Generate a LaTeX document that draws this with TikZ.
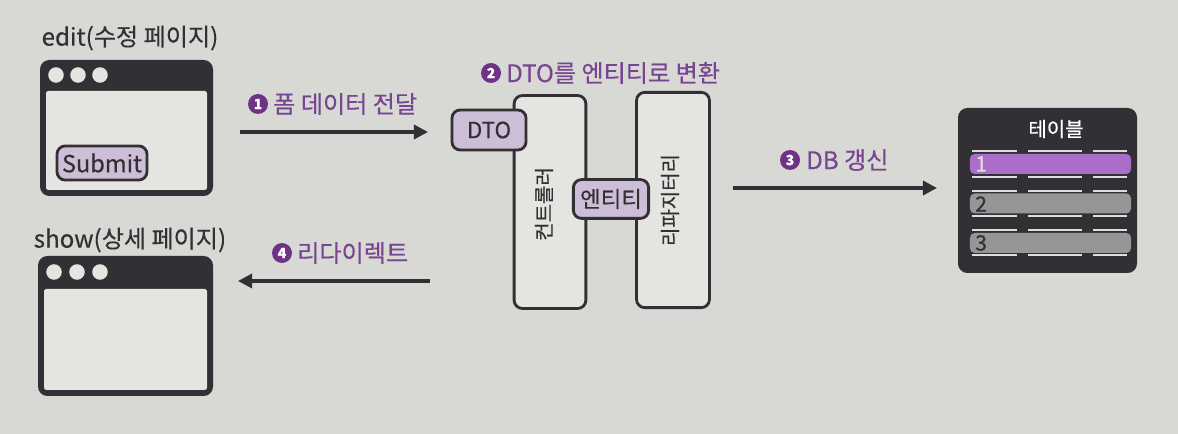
\documentclass[tikz,border=0pt]{standalone}
\usepackage{fontspec}
\setmainfont{Noto Sans CJK KR}[FakeBold=0.4]
\usetikzlibrary{arrows.meta}
\definecolor{bg}{RGB}{216,216,213}
\definecolor{body}{RGB}{228,228,225}
\definecolor{dark}{RGB}{50,48,52}
\definecolor{purp}{RGB}{110,50,135}
\definecolor{ptxt}{RGB}{120,70,145}
\definecolor{lav}{RGB}{205,190,215}
\definecolor{rowp}{RGB}{170,110,200}
\definecolor{rowg}{RGB}{150,150,150}
\definecolor{seg}{RGB}{222,222,220}
\begin{document}
\begin{tikzpicture}[x=0.85pt,y=-0.85pt,
  lbl/.style={font=\fontsize{20.5}{24}\selectfont, text=dark, inner sep=0pt},
  plbl/.style={font=\fontsize{20.5}{24}\selectfont, text=ptxt, inner sep=0pt, anchor=west},
  num/.style={circle, fill=purp, text=white, font=\fontsize{12}{12}\selectfont\bfseries, inner sep=0pt, minimum size=17pt},
  bigbox/.style={draw=dark, line width=2.4pt, rounded corners=7pt, fill=body, inner sep=0pt},
  tag/.style={draw=dark, line width=2.4pt, rounded corners=7pt, fill=lav, text=dark, font=\fontsize{19}{22}\selectfont, inner sep=0pt},
  arr/.style={line width=2.8pt, draw=dark, -{Triangle[length=12pt,width=12pt]}},
  vtxt/.style={font=\fontsize{17}{20}\selectfont, text=dark, rotate=90, inner sep=0pt},
  row/.style={rounded corners=4pt, inner sep=0pt, minimum width=136.9pt, minimum height=17pt},
  rownum/.style={font=\fontsize{18}{20}\selectfont, inner sep=0pt, anchor=west},
  segline/.style={seg, line width=2.2pt},
]
\useasboundingbox (0,0) rectangle (1178,434);
\fill[bg] (0,0) rectangle (1178,434);

% edit window
\node[lbl] (editlbl) at (130,38) {edit(수정 페이지)};
\fill[dark, rounded corners=8pt] (40,60) rectangle (213,196);
\fill[body, rounded corners=2pt] (46,91) rectangle (207,190);
\foreach \cx in {56,78,100} \fill[body] (\cx,75) circle (6.6pt);
\node[tag, minimum width=76.5pt, minimum height=29pt, font=\fontsize{20}{22}\selectfont] (submit) at (102,163) {Submit};

% show window
\node[lbl] (showlbl) at (130,240) {show(상세 페이지)};
\fill[dark, rounded corners=8pt] (38,256) rectangle (213,396);
\fill[body, rounded corners=2pt] (44,289) rectangle (207,390);
\foreach \cx in {54,77,100} \fill[body] (\cx,272) circle (6.6pt);

% arrows left
\coordinate (a1s) at (240,132);
\coordinate (a1e) at (428,132);
\draw[arr] (a1s) -- (a1e);
\node[num] (n1) at (258,104) {1};
\node[plbl] (l1) at (273,104) {폼 데이터 전달};

\coordinate (a4s) at (430,281);
\coordinate (a4e) at (238,281);
\draw[arr] (a4s) -- (a4e);
\node[num] (n4) at (282,253) {4};
\node[plbl] (l4) at (297,253) {리다이렉트};

% controller & repository
\node[num] (n2) at (491,73) {2};
\node[plbl] (l2) at (506,73) {DTO를 엔티티로 변환};
\node[bigbox, minimum width=61pt, minimum height=181pt] (ctrl) at (550,202) {};
\node[vtxt] (ctrltxt) at (544,204) {컨트롤러};
\node[bigbox, minimum width=62pt, minimum height=183pt] (repo) at (673,200) {};
\node[vtxt] (repotxt) at (670,200) {리파지터리};
\node[tag, minimum width=63pt, minimum height=34pt] (dto) at (489,130) {DTO};
\node[tag, minimum width=64pt, minimum height=33pt] (ent) at (611,199) {엔티티};

% arrow 3
\coordinate (a3s) at (733,188);
\coordinate (a3e) at (937,188);
\draw[arr] (a3s) -- (a3e);
\node[num] (n3) at (790,160) {3};
\node[plbl] (l3) at (806,160) {DB 갱신};

% table
\fill[dark, rounded corners=8pt] (958,108) rectangle (1137,273);
\node[font=\fontsize{17}{19}\selectfont, text=white, inner sep=0pt] (tbl) at (1056,129) {테이블};
\foreach \yt/\yb in {151/177, 191/216, 230/255} {
  \draw[segline] (972,\yt) -- (1017,\yt) (1028,\yt) -- (1082,\yt) (1093,\yt) -- (1127,\yt);
  \draw[segline] (972,\yb) -- (1017,\yb) (1028,\yb) -- (1082,\yb) (1093,\yb) -- (1127,\yb);
}
\node[row, fill=rowp] (r1) at (1050.5,164) {};
\node[row, fill=rowg] (r2) at (1050.5,203.5) {};
\node[row, fill=rowg] (r3) at (1050.5,243) {};
\node[rownum, text=seg] (t1) at (975,164) {1};
\node[rownum, text=dark] (t2) at (975,204) {2};
\node[rownum, text=dark] (t3) at (975,243) {3};
\end{tikzpicture}
\end{document}
